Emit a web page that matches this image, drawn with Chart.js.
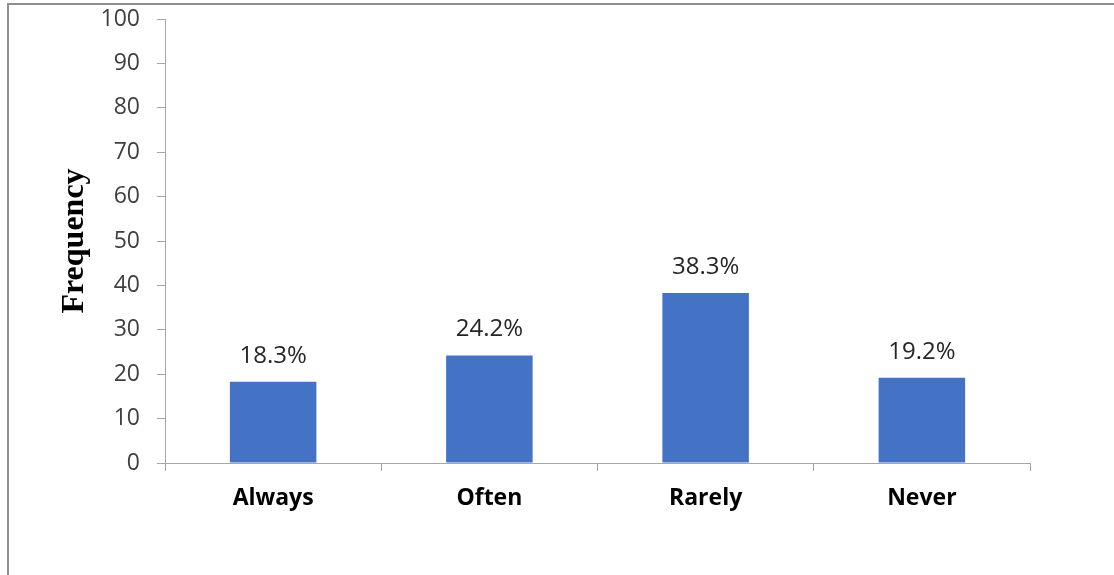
<!DOCTYPE html>
<html>
<head>
<meta charset="utf-8">
<script src="https://cdn.jsdelivr.net/npm/chart.js@4"></script>
<style>
  html, body { margin: 0; padding: 0; background: #fff; }
  #wrap { width: 1114px; height: 575px; position: relative; }
</style>
</head>
<body>
<div id="wrap"><canvas id="freqChart" width="1114" height="575"></canvas></div>
<script>
const categories = ['Always', 'Often', 'Rarely', 'Never'];
const frequency = [18.3, 24.2, 38.3, 19.2];
const pctLabels = ['18.3%', '24.2%', '38.3%', '19.2%'];

// outer frame (top and left lines only visible in the picture)
const framePlugin = {
    id: 'frame',
    beforeDraw(chart) {
        const c = chart.ctx;
        c.save();
        c.fillStyle = '#fff';
        c.fillRect(0, 0, chart.width, chart.height);
        c.strokeStyle = '#8f8f8f';
        c.lineWidth = 2;
        c.beginPath();
        c.moveTo(8, chart.height);
        c.lineTo(8, 4);
        c.lineTo(chart.width, 4);
        c.stroke();
        c.restore();
    }
};

// percentage labels above bars
const barLabels = {
    id: 'barLabels',
    afterDatasetsDraw(chart) {
        const c = chart.ctx;
        const meta = chart.getDatasetMeta(0);
        c.save();
        c.font = '24px "Open Sans"';
        c.fillStyle = '#262626';
        c.textAlign = 'center';
        c.textBaseline = 'middle';
        meta.data.forEach((bar, i) => {
            c.fillText(pctLabels[i], bar.x, bar.y - 26);
        });
        c.restore();
    }
};

const ctx = document.getElementById('freqChart').getContext('2d');
const freqChart = new Chart(ctx, {
    type: 'bar',
    data: {
        labels: categories,
        datasets: [{
            label: 'Frequency',
            data: frequency,
            backgroundColor: '#4472C4',
            borderWidth: 0,
            categoryPercentage: 1,
            barPercentage: 0.4
        }]
    },
    options: {
        responsive: false,
        animation: false,
        layout: { padding: { top: 19, right: 84, left: 0, bottom: 0 } },
        plugins: {
            legend: { display: false },
            tooltip: { enabled: false }
        },
        scales: {
            x: {
                grid: {
                    drawOnChartArea: false,
                    drawTicks: true,
                    tickLength: 8,
                    color: '#a6a6a6'
                },
                border: { color: '#a6a6a6', width: 1 },
                ticks: {
                    color: '#000',
                    padding: 14,
                    font: { family: '"Open Sans"', size: 23, weight: 'bold' }
                },
                afterFit(scale) {
                    scale.height = 112;
                    scale.paddingLeft = 0;
                    scale.paddingRight = 0;
                }
            },
            y: {
                min: 0,
                max: 100,
                ticks: {
                    stepSize: 10,
                    color: '#404040',
                    padding: 17,
                    font: { family: '"Open Sans"', size: 23 }
                },
                grid: {
                    drawOnChartArea: false,
                    drawTicks: true,
                    tickLength: 8,
                    color: '#a6a6a6'
                },
                border: { color: '#a6a6a6', width: 1 },
                title: {
                    display: true,
                    text: 'Frequency',
                    color: '#000',
                    padding: { top: 56, bottom: 0 },
                    font: { family: '"Liberation Serif"', size: 32, weight: 'bold' }
                },
                afterFit(scale) {
                    scale.width = 165;
                    scale.paddingTop = 0;
                    scale.paddingBottom = 0;
                }
            }
        }
    },
    plugins: [framePlugin, barLabels]
});
</script>
</body>
</html>
